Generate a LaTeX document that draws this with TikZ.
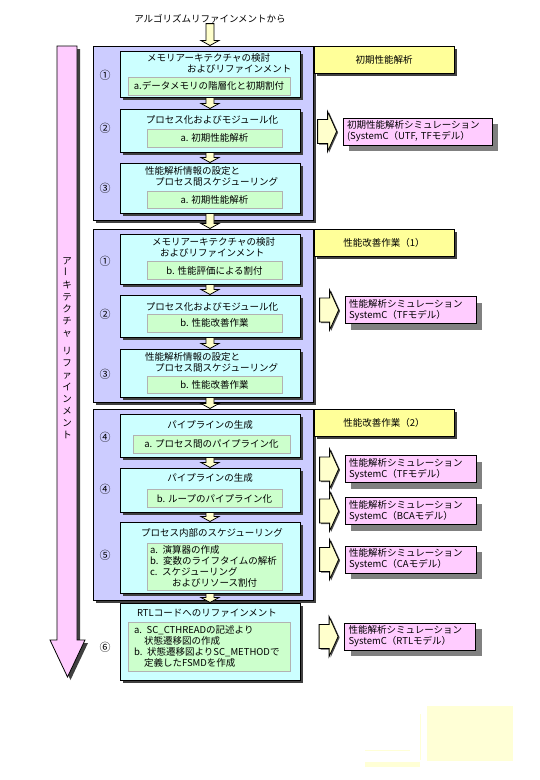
\documentclass[tikz,border=0pt]{standalone}
\usepackage{fontspec}
\setmainfont{Noto Sans CJK JP}
\usetikzlibrary{calc,positioning,shadows}

\definecolor{lav}{HTML}{CCCCFF}
\definecolor{cyanbox}{HTML}{CCFFFF}
\definecolor{greenbox}{HTML}{CCFFCC}
\definecolor{labyellow}{HTML}{FFFF99}
\definecolor{simpink}{HTML}{FFCCFF}
\definecolor{arrowcream}{HTML}{FFFFCC}
\definecolor{paleyellow}{HTML}{FFFFD6}
\definecolor{shade}{HTML}{808080}

\tikzset{
  every node/.style={font=\fontsize{9.5}{11}\selectfont,inner sep=0pt},
  sh/.style={drop shadow={shadow xshift=3pt,shadow yshift=-3pt,fill=black!75,opacity=1}},
  group/.style={draw,line width=1pt,fill=lav,minimum width=220pt,sh},
  stepbox/.style={draw,line width=1pt,fill=cyanbox,minimum width=180pt,sh},
  sub/.style={draw=gray!60,line width=0.8pt,fill=greenbox,minimum height=18pt},
  phase/.style={draw,line width=1pt,fill=labyellow,minimum width=140pt,minimum height=27pt,sh},
  sim/.style={draw,line width=0.8pt,fill=simpink,minimum height=27pt,align=left,
    inner xsep=4pt,text width=123pt,
    drop shadow={shadow xshift=6pt,shadow yshift=-6pt,fill=shade,opacity=1}},
  blockarrow/.style={draw,line width=0.8pt,fill=arrowcream},
  num/.style={font=\fontsize{11}{11}\selectfont},
}

% down arrow between two boxes
\newcommand{\darrow}[2]{\path[blockarrow] let \p1=(#1.south), \p2=(#2.north) in
  (\x1-4pt,\y1) -- (\x1+4pt,\y1) -- (\x1+4pt,\y2+5pt) -- (\x1+9pt,\y2+5pt)
  -- (\x1,\y2) -- (\x1-9pt,\y2+5pt) -- (\x1-4pt,\y2+5pt) -- cycle;}
% right arrow in front of a simulation box
\newcommand{\rarrow}[1]{\path[blockarrow,drop shadow={shadow xshift=1.5pt,shadow yshift=-1pt,fill=black!70,opacity=1}]
  ($(#1.west)+(-25pt,12pt)$) -- ++(10pt,0) -- ++(0,8pt) -- ++(9pt,-20pt)
  -- ++(-9pt,-20pt) -- ++(0,8pt) -- ++(-10pt,0) -- cycle;}

\begin{document}
\begin{tikzpicture}[x=1pt,y=-1pt]
	\useasboundingbox (0,0) rectangle (540,780);

	% left arrow
	\path[draw,line width=0.8pt,fill=simpink,sh] (57,46) -- (77,46) -- (77,640) -- (85,640) -- (67.5,677) -- (50,640) -- (57,640) -- cycle;
	\node[align=center,font=\fontsize{9.5}{12}\selectfont] (vt) at (67,348) {ア\\\rotatebox{90}{ー}\\キ\\テ\\ク\\チ\\ャ\\[6pt]リ\\フ\\ァ\\イ\\ン\\メ\\ン\\ト};

	\node (top) at (210,19) {アルゴリズムリファインメントから};

	% groups
	\node[group,minimum height=174pt] (g1) at (203,133) {};
	\node[group,minimum height=173pt] (g2) at (203,315.5) {};
	\node[group,minimum height=191pt] (g3) at (203,504.5) {};

	\node[phase,anchor=north west] (p1) at (g1.north east) {初期性能解析};
	\node[phase,anchor=north west] (p2) at (g2.north east) {性能改善作業（1）};
	\node[phase,anchor=north west] (p3) at (g3.north east) {性能改善作業（2）};

	% steps
	\node[stepbox,minimum height=46pt] (s1a) at (210,74) {};
	\node[stepbox,minimum height=43pt] (s1b) at (210,130.5) {};
	\node[stepbox,minimum height=50pt] (s1c) at (210,188) {};
	\node[stepbox,minimum height=50pt] (s2a) at (210,259) {};
	\node[stepbox,minimum height=42pt] (s2b) at (210,316) {};
	\node[stepbox,minimum height=48pt] (s2c) at (210,373) {};
	\node[stepbox,minimum height=43pt] (s3a) at (210,435.5) {};
	\node[stepbox,minimum height=44pt] (s3b) at (210,490) {};
	\node[stepbox,minimum height=71pt] (s3c) at (210,557.5) {};
	\node[stepbox,minimum height=77pt] (s4) at (210,641.5) {};

	% step titles
	\node[align=left,anchor=west] (t1a) at (147,63) {メモリアーキテクチャの検討\\\hspace*{40pt}およびリファインメント};
	\node (t1b) at (212,120) {プロセス化およびモジュール化};
	\node[align=left,anchor=west] (t1c) at (145,176.5) {性能解析情報の設定と\\\hspace*{10pt}プロセス間スケジューリング};
	\node[align=left,anchor=west] (t2a) at (152,247.5) {メモリアーキテクチャの検討\\\hspace*{8pt}およびリファインメント};
	\node (t2b) at (212,307) {プロセス化およびモジュール化};
	\node[align=left,anchor=west] (t2c) at (145,362.5) {性能解析情報の設定と\\\hspace*{10pt}プロセス間スケジューリング};
	\node (t3a) at (210,425) {パイプラインの生成};
	\node (t3b) at (210,478) {パイプラインの生成};
	\node (t3c) at (212,533) {プロセス内部のスケジューリング};
	\node (t4) at (207,613) {RTLコードへのリファインメント};

	% sub steps
	\node[sub,minimum width=162pt] (a1a) at (209,86) {a.データメモリの階層化と初期割付};
	\node[sub,minimum width=135pt] (a1b) at (214.5,138) {a. 初期性能解析};
	\node[sub,minimum width=135pt,minimum height=17pt] (a1c) at (214.5,199.5) {a. 初期性能解析};
	\node[sub,minimum width=135pt] (a2a) at (214.5,270.5) {b. 性能評価による割付};
	\node[sub,minimum width=135pt] (a2b) at (214.5,323) {b. 性能改善作業};
	\node[sub,minimum width=135pt,minimum height=17pt] (a2c) at (214.5,384.5) {b. 性能改善作業};
	\node[sub,minimum width=157pt] (a3a) at (211.5,444) {a. プロセス間のパイプライン化};
	\node[sub,minimum width=135pt] (a3b) at (214.5,498.5) {b. ループのパイプライン化};
	\node[sub,minimum height=47pt,align=left,inner xsep=3pt,text width=129pt] (a3c) at (214.5,566.5) {a. 演算器の作成\\b. 変数のライフタイムの解析\\c. スケジューリング\\\hspace*{22pt}およびリソース割付};
	\node[sub,minimum height=49pt,align=left,inner xsep=6pt,text width=150pt] (a4) at (209,646.5) {a. SC\_CTHREADの記述より\\\hspace*{10pt}状態遷移図の作成\\b. 状態遷移図よりSC\_METHODで\\\hspace*{10pt}定義したFSMDを作成};

	% numbers
	\node[num] (n1a) at (105,75) {①};
	\node[num] (n1b) at (105,128) {②};
	\node[num] (n1c) at (105,188) {③};
	\node[num] (n2a) at (105,261) {①};
	\node[num] (n2b) at (105,314) {②};
	\node[num] (n2c) at (105,374) {③};
	\node[num] (n3a) at (105,437) {④};
	\node[num] (n3b) at (105,489) {④};
	\node[num] (n3c) at (105,555) {⑤};
	\node[num] (n4) at (105,647) {⑥};

	% flow
	\darrow{top}{g1}
	\darrow{s1a}{s1b}
	\darrow{s1b}{s1c}
	\darrow{s1c}{g2}
	\darrow{s2a}{s2b}
	\darrow{s2b}{s2c}
	\darrow{s2c}{g3}
	\darrow{s3a}{s3b}
	\darrow{s3b}{s3c}
	\darrow{s3c}{s4}

	% simulations
	\node[sim,text width=141pt] (m1) at (417.5,131.5) {初期性能解析シミュレーション\\(SystemC（UTF, TFモデル）};
	\node[sim] (m2) at (410.5,310) {性能解析シミュレーション\\SystemC（TFモデル）};
	\node[sim] (m3) at (410.5,469) {性能解析シミュレーション\\SystemC（TFモデル）};
	\node[sim] (m4) at (410.5,511) {性能解析シミュレーション\\SystemC（BCAモデル）};
	\node[sim] (m5) at (410.5,559.5) {性能解析シミュレーション\\SystemC（CAモデル）};
	\node[sim] (m6) at (410,636.5) {性能解析シミュレーション\\SystemC（RTLモデル）};

	\rarrow{m1}
	\rarrow{m2}
	\rarrow{m3}
	\rarrow{m4}
	\rarrow{m5}
	\rarrow{m6}

	% pale marks, bottom right
	\fill[paleyellow] (427,706) rectangle (513,761);
	\fill[paleyellow] (419.5,714) rectangle (420.5,760);
	\fill[paleyellow] (365,749.5) rectangle (410,751);
	\fill[paleyellow] (365,762) rectangle (420,767);
\end{tikzpicture}
\end{document}
